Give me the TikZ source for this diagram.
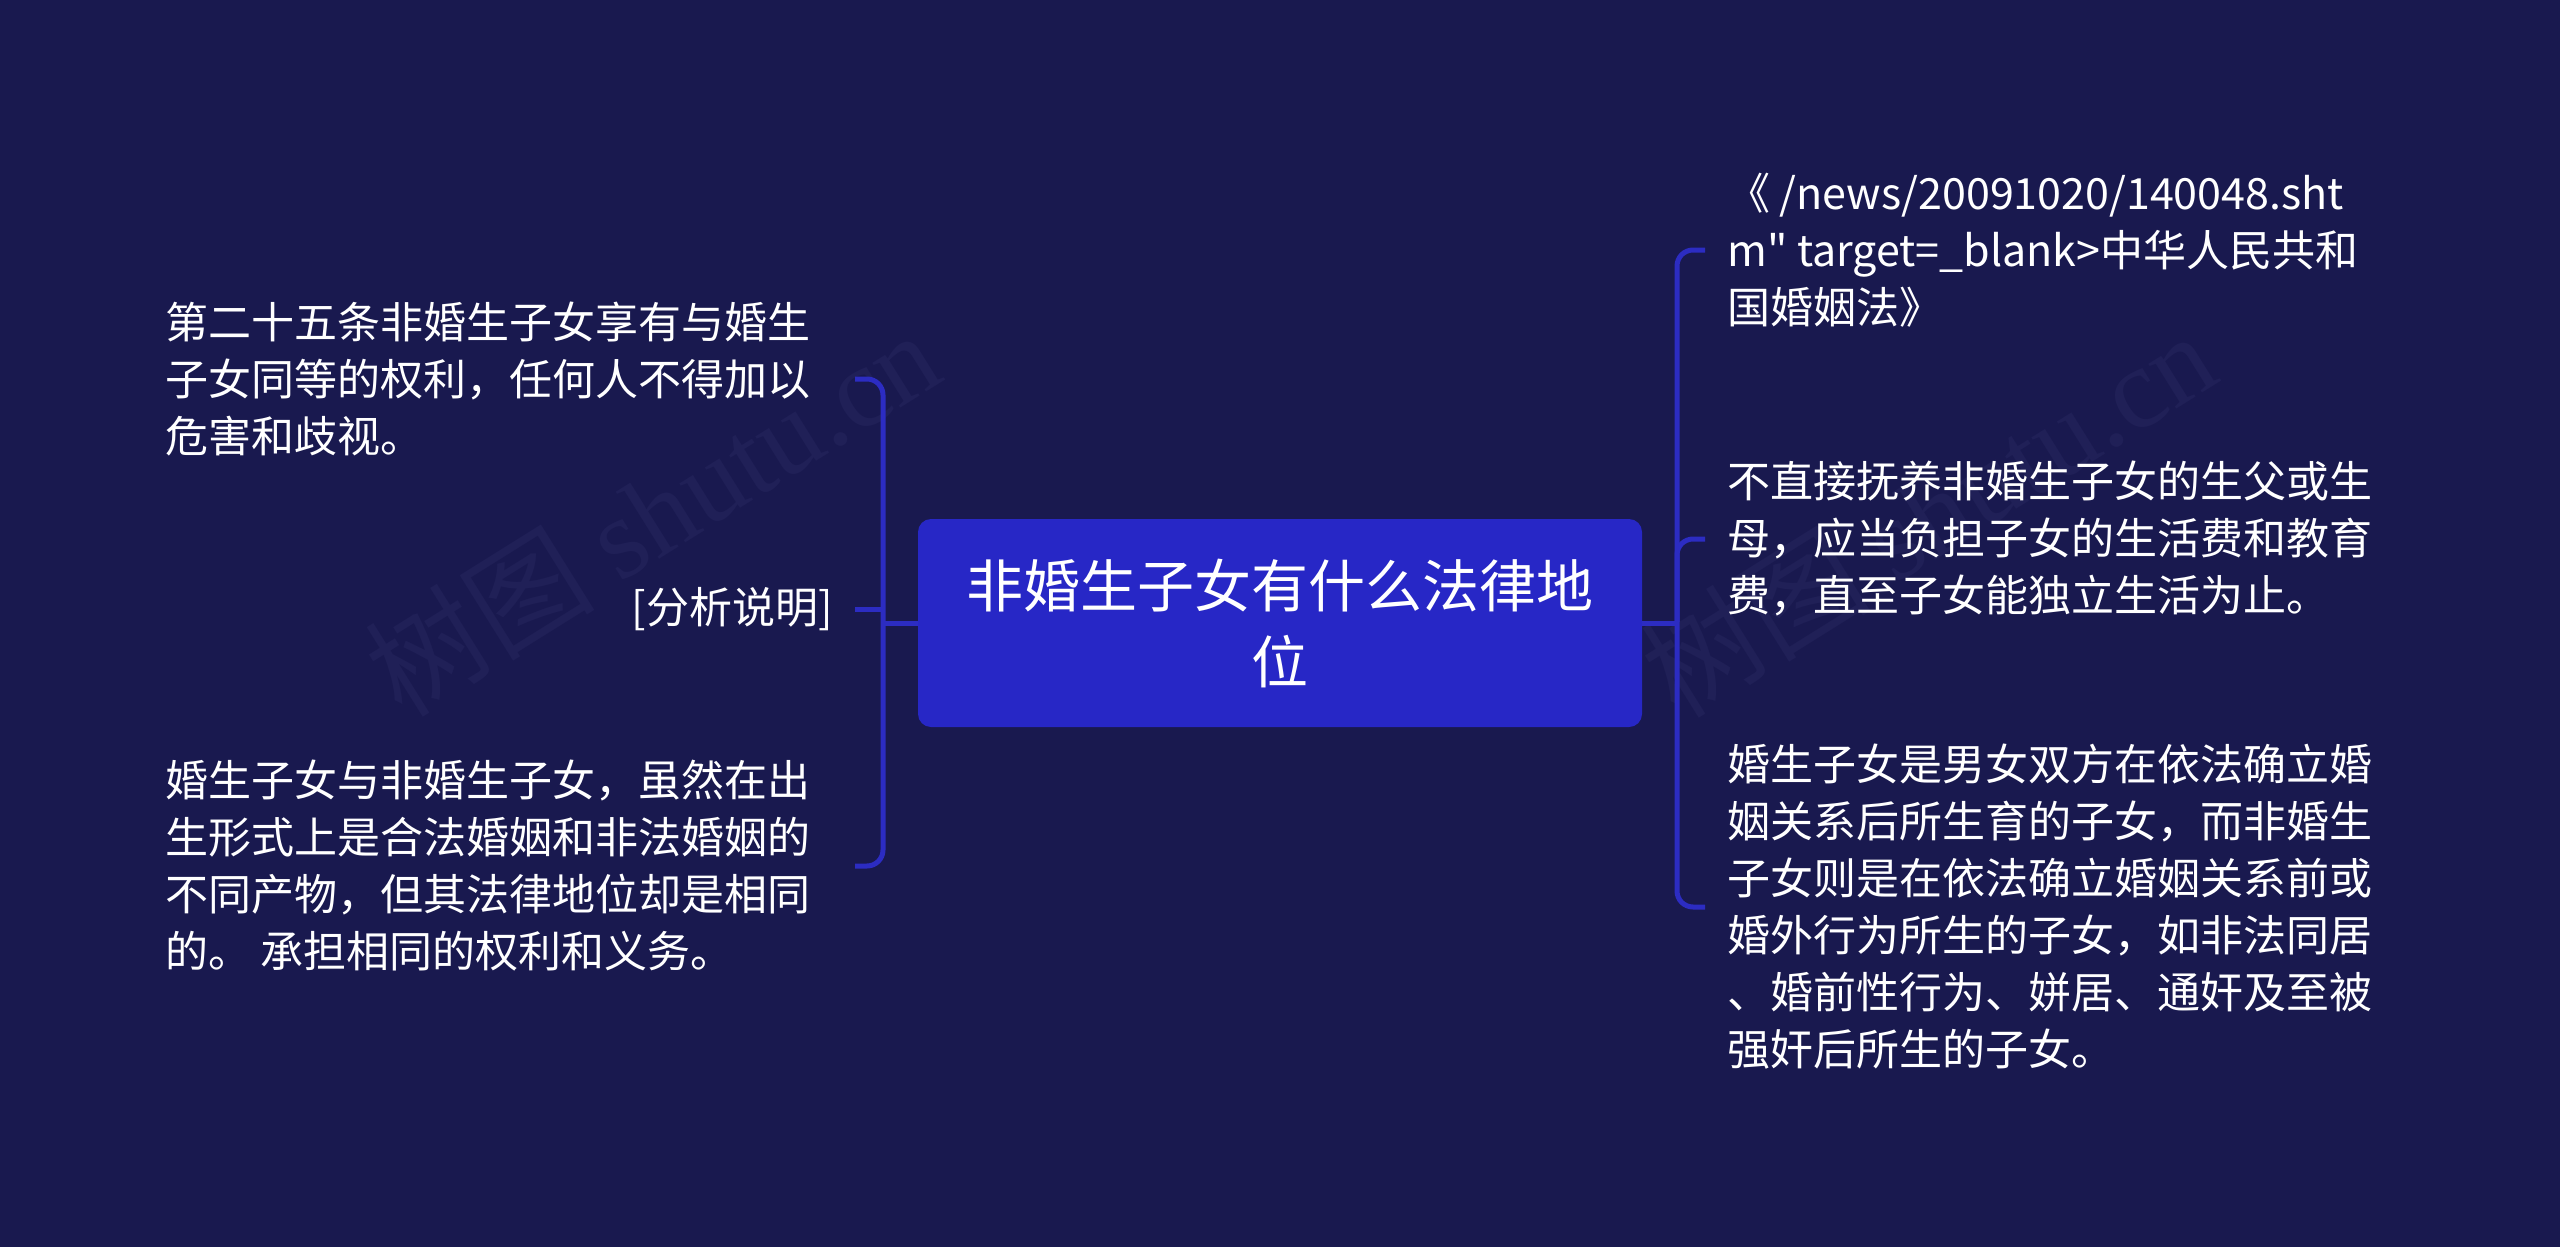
\documentclass[tikz,border=0pt]{standalone}
\usepackage{fontspec}
\setmainfont{Noto Sans CJK SC}
\newfontfamily\cjktext{Noto Sans CJK SC}
\newfontfamily\wmlatin{Liberation Serif}
\newfontfamily\wmcjk{Noto Sans CJK SC}
\definecolor{bg}{HTML}{19194F}
\definecolor{nodec}{HTML}{2727C6}
\definecolor{linec}{HTML}{2C2CC2}
\definecolor{wm}{HTML}{202057}
\begin{document}
\begin{tikzpicture}[x=1pt,y=-1pt,
  conn/.style={draw=linec, line width=5pt},
  txt/.style={text=white, inner sep=0pt, align=left, font=\cjktext\fontsize{43}{57}\selectfont},
  wmark/.style={text=wm, rotate=32, inner sep=0pt, font=\fontsize{115}{115}\selectfont}]
\fill[bg] (0,0) rectangle (2560,1247);
\useasboundingbox (0,0) rectangle (2560,1247);
% watermarks
\node[wmark] (wm1) at (652,512) {\wmcjk 树图 \wmlatin shutu.cn};
\node[wmark] (wm2) at (1928,513) {\wmcjk 树图 \wmlatin shutu.cn};
% central node
\node[fill=nodec, rounded corners=13pt, minimum width=724pt, minimum height=208pt,
  text=white, align=center, inner sep=0pt, font=\cjktext\fontsize{57}{76}\selectfont]
  (c) at (1280,623) {非婚生子女有什么法律地\\位};
% left nodes
\node[txt, anchor=west] (l1) at (165,379) {第二十五条非婚生子女享有与婚生\\子女同等的权利，任何人不得加以\\危害和歧视。};
\node[txt, anchor=east] (l2) at (833,609) {[分析说明]};
\node[txt, anchor=west] (l3) at (165,866) {婚生子女与非婚生子女，虽然在出\\生形式上是合法婚姻和非法婚姻的\\不同产物，但其法律地位却是相同\\的。 承担相同的权利和义务。};
% right nodes
\node[txt, anchor=west] (r1) at (1727,250) {《 /news/20091020/140048.sht\\m" target=\_blank>中华人民共和\\国婚姻法》};
\node[txt, anchor=west] (r2) at (1727,539) {不直接抚养非婚生子女的生父或生\\母，应当负担子女的生活费和教育\\费，直至子女能独立生活为止。};
\node[txt, anchor=west] (r3) at (1727,907) {婚生子女是男女双方在依法确立婚\\姻关系后所生育的子女，而非婚生\\子女则是在依法确立婚姻关系前或\\婚外行为所生的子女，如非法同居\\、婚前性行为、姘居、通奸及至被\\强奸后所生的子女。};
% connectors left
\coordinate (lhub) at (883,622);
\coordinate (lend) at (855,0);
\draw[conn] (c.west) -- (c.west -| lhub);
\draw[conn, rounded corners=16pt] (l1.east -| lend) -| (lhub) |- (l3.east -| lend);
\draw[conn] (l2.east -| lend) -- (l2.east -| lhub);
% connectors right
\coordinate (rhub) at (1677,622);
\coordinate (rend) at (1705,0);
\draw[conn] (c.east) -- (c.east -| rhub);
\draw[conn, rounded corners=16pt] (r1.west -| rend) -| (rhub) |- (r3.west -| rend);
\draw[conn, rounded corners=16pt] (r2.west -| rend) -| (rhub);
\end{tikzpicture}
\end{document}
